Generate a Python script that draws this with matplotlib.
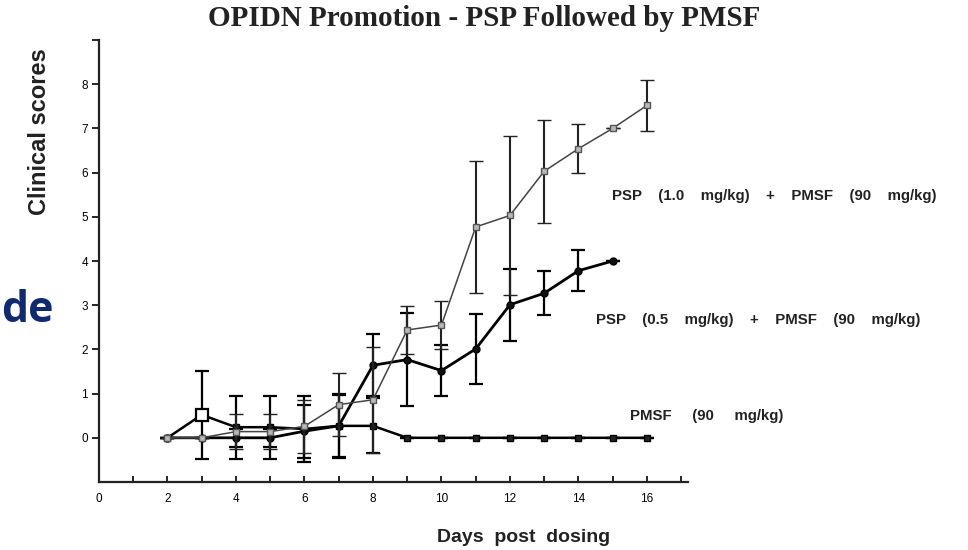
import matplotlib
matplotlib.use("Agg")
import matplotlib.pyplot as plt
import numpy as np

# ---- data ----
days = [2, 3, 4, 5, 6, 7, 8, 9, 10, 11, 12, 13, 14, 15, 16]

psp10_y   = [0, 0, 0.14, 0.14, 0.26, 0.75, 0.86, 2.44, 2.55, 4.77, 5.03, 6.03, 6.54, 7.0, 7.52]
psp10_err = [0, 0, 0.40, 0.40, 0.60, 0.72, 1.20, 0.55, 0.55, 1.50, 1.80, 1.16, 0.56, 0, 0.58]

psp05_days = [2, 3, 4, 5, 6, 7, 8, 9, 10, 11, 12, 13, 14, 15]
psp05_y   = [0, 0, 0, 0, 0.15, 0.27, 1.64, 1.77, 1.52, 2.01, 3.01, 3.27, 3.78, 4.0]
psp05_err = [0, 0, 0.20, 0.20, 0.60, 0.70, 0.70, 1.05, 0.58, 0.80, 0.82, 0.50, 0.47, 0]

pmsf_y   = [0, 0.52, 0.24, 0.24, 0.20, 0.27, 0.27, 0, 0, 0, 0, 0, 0, 0, 0]
pmsf_err = [0, 1.00, 0.71, 0.71, 0.75, 0.72, 0.62, 0, 0, 0, 0, 0, 0, 0, 0]

title = "OPIDN Promotion - PSP Followed by PMSF"
label_10 = "PSP    (1.0    mg/kg)    +    PMSF    (90    mg/kg)"
label_05 = "PSP    (0.5    mg/kg)    +    PMSF    (90    mg/kg)"
label_pm = "PMSF     (90     mg/kg)"
xticks_major = [0, 2, 4, 6, 8, 10, 12, 14, 16]
yticks_major = [0, 1, 2, 3, 4, 5, 6, 7, 8]

W, H = 968, 550
fig = plt.figure(figsize=(W / 100, H / 100), dpi=100)
ax = fig.add_axes([99 / W, 1 - 482 / H, (688 - 99) / W, (482 - 40) / H])

def px(x, y):
    return x / W, 1 - y / H

# PMSF
ax.errorbar(days, pmsf_y, yerr=pmsf_err, color='black', lw=1.8, marker='s',
            ms=4, mfc='#222222', mec='black', ecolor='black', elinewidth=1.6,
            capsize=5, capthick=1.6, zorder=3)
ax.plot([days[1]], [pmsf_y[1]], marker='s', ms=8, mfc='white', mec='black',
        mew=1.6, ls='none', zorder=6)

# PSP 0.5
ax.errorbar(psp05_days, psp05_y, yerr=psp05_err, color='black', lw=2.0, marker='o',
            ms=5, mfc='#111111', mec='black', ecolor='black', elinewidth=1.6,
            capsize=5, capthick=1.6, zorder=4)

# PSP 1.0
ax.errorbar(days, psp10_y, yerr=psp10_err, color='#444444', lw=1.1, marker='s',
            ms=5, mfc='#b8b8b8', mec='#555555', mew=1.0, ecolor='#222222',
            elinewidth=1.5, capsize=5, capthick=1.5, zorder=5)

ax.set_xlim(0, 17.2)
ax.set_ylim(-1, 9)
for s in ['top', 'right']:
    ax.spines[s].set_visible(False)
for s in ['left', 'bottom']:
    ax.spines[s].set_linewidth(1.6)
    ax.spines[s].set_color('#222222')

ax.set_xticks(xticks_major)
ax.set_xticks(list(range(1, 18, 2)), minor=True)
ax.set_xticklabels([str(v) for v in xticks_major], fontsize=8.5,
                   family='Liberation Sans')
ax.tick_params(axis='x', which='both', direction='in', length=4, width=1.2, pad=8)
ax.set_yticks(yticks_major + [9])
ax.set_yticklabels([str(v) for v in yticks_major] + [''], fontsize=8.5,
                   family='Liberation Sans')
ax.tick_params(axis='y', direction='out', length=5, width=1.2, pad=3)

fig.text(*px(484, 19), title, ha='center', va='center', fontsize=21,
         family='Liberation Serif', fontweight='bold', color='#222222')
fig.text(*px(40, 132), "Clinical scores", ha='center', va='center', rotation=90,
         fontsize=17, family='Liberation Sans', fontweight='bold', color='#222222')
fig.text(*px(524, 538), "Days  post  dosing", ha='center', va='center',
         fontsize=14, family='Liberation Sans', fontweight='bold', color='#222222')

fig.text(*px(612, 196), label_10, ha='left', va='center', fontsize=10.8,
         family='Liberation Sans', fontweight='bold', color='#222222')
fig.text(*px(596, 320), label_05, ha='left', va='center', fontsize=10.8,
         family='Liberation Sans', fontweight='bold', color='#222222')
fig.text(*px(630, 416), label_pm, ha='left', va='center', fontsize=10.8,
         family='Liberation Sans', fontweight='bold', color='#222222')

fig.text(*px(54, 310), "de", ha='right', va='center', fontsize=31,
         family='Open Sans', fontweight='bold', color='#0f2a6e')

fig.savefig("out.png", dpi=100)
